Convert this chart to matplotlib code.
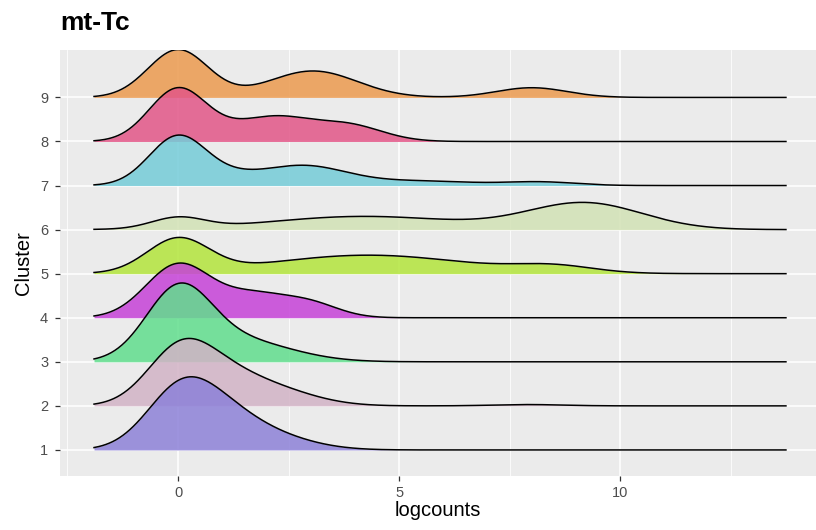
import numpy as np
import matplotlib
matplotlib.use("Agg")
import matplotlib.pyplot as plt

plt.rcParams["font.family"] = ["Liberation Sans", "DejaVu Sans"]

# clusters, bottom to top
clusters = [1, 2, 3, 4, 5, 6, 7, 8, 9]
colors = ["#8D81D8", "#D2B3C6", "#61DE8D", "#C642D8", "#B3E53C",
          "#D2E2B5", "#74CCD8", "#E25687", "#EB9A4F"]

# density bumps (centre, height in row units, width)
bump_pos = [
    [0.0, 0.9, 1.9],
    [0.0, 0.9, 2.0, 7.9],
    [0.0, 1.3],
    [0.0, 1.7, 3.0],
    [0.0, 4.3, 8.5],
    [0.0, 4.2, 9.2],
    [0.0, 1.2, 2.8, 5.5, 8.2],
    [0.0, 1.2, 2.2, 3.8],
    [0.0, 3.05, 8.0],
]
bump_height = [
    [1.2, 0.6, 0.35],
    [1.15, 0.5, 0.4, 0.03],
    [1.5, 0.5],
    [1.2, 0.5, 0.3],
    [0.76, 0.42, 0.15],
    [0.25, 0.30, 0.60],
    [1.12, 0.12, 0.45, 0.10, 0.08],
    [1.20, 0.12, 0.50, 0.38],
    [1.08, 0.60, 0.22],
]
bump_width = [
    [0.76, 0.8, 1.0],
    [0.73, 0.8, 1.0, 0.8],
    [0.73, 1.2],
    [0.73, 0.75, 0.65],
    [0.7, 2.2, 0.9],
    [0.6, 2.1, 1.3],
    [0.65, 0.6, 1.0, 1.2, 0.8],
    [0.65, 0.6, 0.75, 0.8],
    [0.68, 1.0, 0.8],
]
x_min, x_max = -1.9, 13.75

fig = plt.figure(figsize=(8.16, 5.3), dpi=100)
ax = fig.add_axes([0.0735, 0.102, 0.9265, 0.804])
ax.set_facecolor("#EBEBEB")

x = np.linspace(x_min, x_max, 600)
for i in range(len(clusters) - 1, -1, -1):
    base = clusters[i]
    h = np.zeros_like(x)
    for c, a, s in zip(bump_pos[i], bump_height[i], bump_width[i]):
        h += a * np.exp(-(x - c) ** 2 / (2 * s ** 2))
    z = 10 - i
    ax.fill_between(x, base, base + h, color=colors[i], alpha=0.85,
                    lw=0, zorder=z)
    ax.plot(x, base + h, color="black", lw=1.1, zorder=z + 0.5)

ax.set_xlim(-2.67, 14.43)
ax.set_ylim(0.41, 10.08)
ax.set_xticks([0, 5, 10])
ax.set_xticks([-2.5, 2.5, 7.5, 12.5], minor=True)
ax.set_yticks(clusters)
ax.grid(True, which="major", color="white", lw=1.1, zorder=0)
ax.grid(True, which="minor", axis="x", color="white", lw=0.55, zorder=0)
ax.set_axisbelow(True)
for s in ax.spines.values():
    s.set_visible(False)
ax.tick_params(which="major", length=3.5, color="#333333", labelsize=10.5,
               labelcolor="#4D4D4D", width=0.9)
ax.tick_params(axis="y", pad=5)
ax.tick_params(which="minor", length=0)

ax.set_xlabel("logcounts", fontsize=14.5, labelpad=1)
ax.set_ylabel("Cluster", fontsize=14.5, labelpad=5)
fig.text(0.074, 0.956, "mt-Tc", fontsize=19, fontweight="bold", va="center")

fig.savefig("out.png", dpi=100)
